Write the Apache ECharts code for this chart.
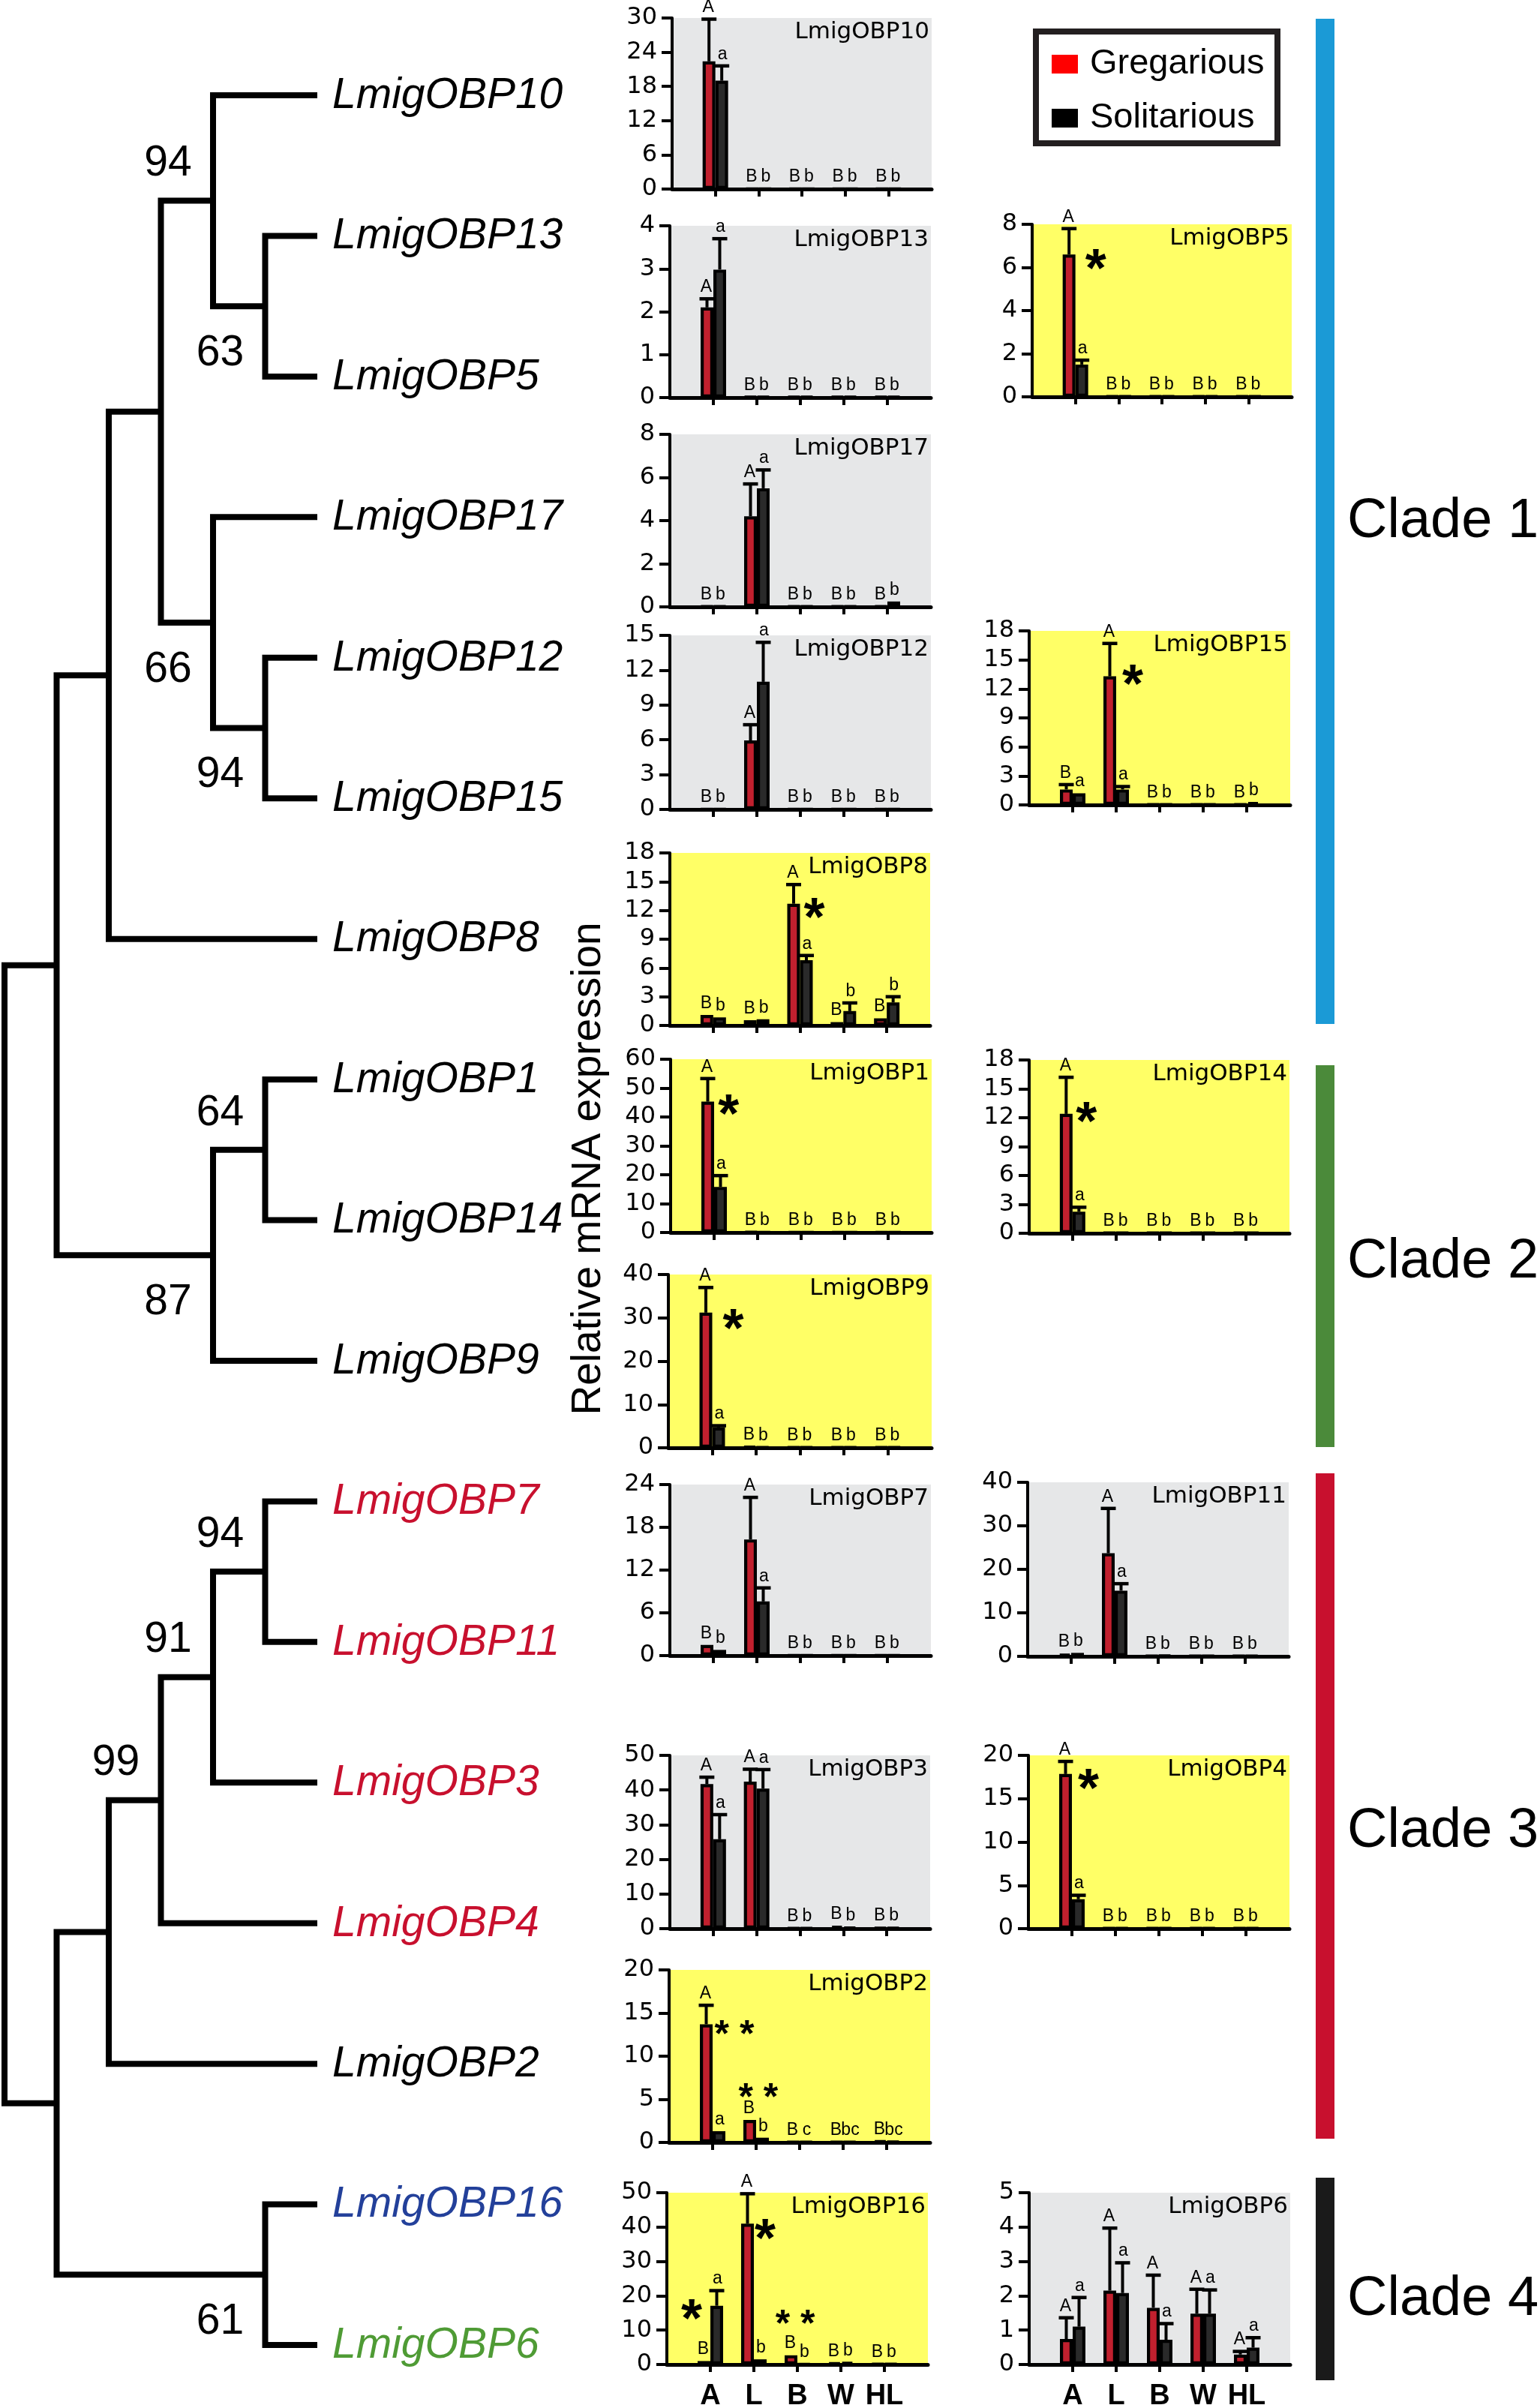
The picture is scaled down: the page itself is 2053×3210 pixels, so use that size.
<!DOCTYPE html>
<html><head><meta charset="utf-8">
<script src="https://cdn.jsdelivr.net/npm/echarts/dist/echarts.min.js"></script>
<style>html,body{margin:0;padding:0;background:#fff}#c{width:2053px;height:3210px}</style>
</head><body><div id="c"></div>
<script>
// ---------------- DATA ----------------
const TISSUES = ['A', 'L', 'B', 'W', 'HL'];
const GROUPS = ['Gregarious', 'Solitarious'];

const LEAVES = ['LmigOBP10','LmigOBP13','LmigOBP5','LmigOBP17','LmigOBP12','LmigOBP15','LmigOBP8',
  'LmigOBP1','LmigOBP14','LmigOBP9','LmigOBP7','LmigOBP11','LmigOBP3','LmigOBP4','LmigOBP2','LmigOBP16','LmigOBP6'];
// [child, child, bootstrap]
const TREE = [
  [
    [
      [
        ['LmigOBP10', ['LmigOBP13', 'LmigOBP5', 63], 94],
        ['LmigOBP17', ['LmigOBP12', 'LmigOBP15', 94], 66],
        null
      ],
      'LmigOBP8', null
    ],
    [['LmigOBP1', 'LmigOBP14', 64], 'LmigOBP9', 87],
    null
  ],
  [
    [[[['LmigOBP7', 'LmigOBP11', 94], 'LmigOBP3', 91], 'LmigOBP4', 99], 'LmigOBP2', null],
    ['LmigOBP16', 'LmigOBP6', 61],
    null
  ],
  null
];
const CLADES = ['Clade 1', 'Clade 2', 'Clade 3', 'Clade 4'];

// stars: [tissue index, offset (category widths), y value, label]
const OBP10_TICKS = [0, 6, 12, 18, 24, 30];
const OBP10_GRE = [22.4, 0.05, 0.05, 0.05, 0.05];
const OBP10_GRE_SE = [7.4, 0, 0, 0, 0];
const OBP10_SOL = [19.0, 0.05, 0.05, 0.05, 0.05];
const OBP10_SOL_SE = [2.6, 0, 0, 0, 0];
const OBP10_GRE_SIG = ['A', 'B', 'B', 'B', 'B'];
const OBP10_SOL_SIG = ['a', 'b', 'b', 'b', 'b'];
const OBP10_STARS = [];

const OBP13_TICKS = [0, 1, 2, 3, 4];
const OBP13_GRE = [2.1, 0.02, 0.02, 0.02, 0.02];
const OBP13_GRE_SE = [0.2, 0, 0, 0, 0];
const OBP13_SOL = [2.98, 0.02, 0.02, 0.02, 0.02];
const OBP13_SOL_SE = [0.72, 0, 0, 0, 0];
const OBP13_GRE_SIG = ['A', 'B', 'B', 'B', 'B'];
const OBP13_SOL_SIG = ['a', 'b', 'b', 'b', 'b'];
const OBP13_STARS = [];

const OBP17_TICKS = [0, 2, 4, 6, 8];
const OBP17_GRE = [0.03, 4.2, 0.03, 0.03, 0.03];
const OBP17_GRE_SE = [0, 1.5, 0, 0, 0];
const OBP17_SOL = [0.03, 5.5, 0.03, 0.03, 0.25];
const OBP17_SOL_SE = [0, 0.85, 0, 0, 0];
const OBP17_GRE_SIG = ['B', 'A', 'B', 'B', 'B'];
const OBP17_SOL_SIG = ['b', 'a', 'b', 'b', 'b'];
const OBP17_STARS = [];

const OBP12_TICKS = [0, 3, 6, 9, 12, 15];
const OBP12_GRE = [0.03, 5.95, 0.03, 0.03, 0.03];
const OBP12_GRE_SE = [0, 1.35, 0, 0, 0];
const OBP12_SOL = [0.03, 11.0, 0.03, 0.03, 0.03];
const OBP12_SOL_SE = [0, 3.4, 0, 0, 0];
const OBP12_GRE_SIG = ['B', 'A', 'B', 'B', 'B'];
const OBP12_SOL_SIG = ['b', 'a', 'b', 'b', 'b'];
const OBP12_STARS = [];

const OBP8_TICKS = [0, 3, 6, 9, 12, 15, 18];
const OBP8_GRE = [1.1, 0.55, 12.7, 0.35, 0.75];
const OBP8_GRE_SE = [0, 0, 2.0, 0, 0];
const OBP8_SOL = [0.85, 0.65, 6.8, 1.5, 2.4];
const OBP8_SOL_SE = [0, 0, 0.5, 0.85, 0.6];
const OBP8_GRE_SIG = ['B', 'B', 'A', 'B', 'B'];
const OBP8_SOL_SIG = ['b', 'b', 'a', 'b', 'b'];
const OBP8_STARS = [[2, 0.33, 12.1, '*']];

const OBP1_TICKS = [0, 10, 20, 30, 40, 50, 60];
const OBP1_GRE = [45.3, 0.2, 0.1, 0.1, 0.1];
const OBP1_GRE_SE = [8.0, 0, 0, 0, 0];
const OBP1_SOL = [15.8, 0.1, 0.1, 0.1, 0.1];
const OBP1_SOL_SE = [3.9, 0, 0, 0, 0];
const OBP1_GRE_SIG = ['A', 'B', 'B', 'B', 'B'];
const OBP1_SOL_SIG = ['a', 'b', 'b', 'b', 'b'];
const OBP1_STARS = [[0, 0.33, 43.7, '*']];

const OBP9_TICKS = [0, 10, 20, 30, 40];
const OBP9_GRE = [31.2, 0.3, 0.1, 0.1, 0.1];
const OBP9_GRE_SE = [5.8, 0, 0, 0, 0];
const OBP9_SOL = [4.7, 0.1, 0.1, 0.1, 0.1];
const OBP9_SOL_SE = [0.4, 0, 0, 0, 0];
const OBP9_GRE_SIG = ['A', 'B', 'B', 'B', 'B'];
const OBP9_SOL_SIG = ['a', 'b', 'b', 'b', 'b'];
const OBP9_STARS = [[0, 0.48, 29.3, '*']];

const OBP7_TICKS = [0, 6, 12, 18, 24];
const OBP7_GRE = [1.5, 16.3, 0.05, 0.05, 0.05];
const OBP7_GRE_SE = [0, 5.9, 0, 0, 0];
const OBP7_SOL = [0.8, 7.6, 0.05, 0.05, 0.05];
const OBP7_SOL_SE = [0, 1.9, 0, 0, 0];
const OBP7_GRE_SIG = ['B', 'A', 'B', 'B', 'B'];
const OBP7_SOL_SIG = ['b', 'a', 'b', 'b', 'b'];
const OBP7_STARS = [];

const OBP3_TICKS = [0, 10, 20, 30, 40, 50];
const OBP3_GRE = [41.7, 42.4, 0.2, 0.8, 0.3];
const OBP3_GRE_SE = [2.0, 3.6, 0, 0, 0];
const OBP3_SOL = [25.8, 40.4, 0.2, 0.4, 0.3];
const OBP3_SOL_SE = [7.1, 5.5, 0, 0, 0];
const OBP3_GRE_SIG = ['A', 'A', 'B', 'B', 'B'];
const OBP3_SOL_SIG = ['a', 'a', 'b', 'b', 'b'];
const OBP3_STARS = [];

const OBP2_TICKS = [0, 5, 10, 15, 20];
const OBP2_GRE = [13.7, 2.6, 0.05, 0.05, 0.2];
const OBP2_GRE_SE = [2.2, 0, 0, 0, 0];
const OBP2_SOL = [1.3, 0.55, 0.05, 0.05, 0.1];
const OBP2_SOL_SE = [0, 0, 0, 0, 0];
const OBP2_GRE_SIG = ['A', 'B', 'B', 'B', 'B'];
const OBP2_SOL_SIG = ['a', 'b', 'c', 'bc', 'bc'];
const OBP2_STARS = [[0, 0.5, 13.2, '* *'], [1, 0.05, 5.9, '* *']];

const OBP16_TICKS = [0, 10, 20, 30, 40, 50];
const OBP16_GRE = [1.0, 41.0, 2.7, 0.5, 0.2];
const OBP16_GRE_SE = [0, 8.7, 0, 0, 0];
const OBP16_SOL = [17.1, 1.5, 0.1, 0.7, 0.2];
const OBP16_SOL_SE = [4.4, 0, 0, 0, 0];
const OBP16_GRE_SIG = ['B', 'A', 'B', 'B', 'B'];
const OBP16_SOL_SIG = ['a', 'b', 'b', 'b', 'b'];
const OBP16_STARS = [[0, -0.43, 15.6, '*'], [1, 0.26, 38.9, '*'], [2, -0.05, 13.5, '* *']];

const OBP5_TICKS = [0, 2, 4, 6, 8];
const OBP5_GRE = [6.6, 0.03, 0.03, 0.03, 0.03];
const OBP5_GRE_SE = [1.2, 0, 0, 0, 0];
const OBP5_SOL = [1.5, 0.03, 0.03, 0.03, 0.03];
const OBP5_SOL_SE = [0.2, 0, 0, 0, 0];
const OBP5_GRE_SIG = ['A', 'B', 'B', 'B', 'B'];
const OBP5_SOL_SIG = ['a', 'b', 'b', 'b', 'b'];
const OBP5_STARS = [[0, 0.47, 6.3, '*']];

const OBP15_TICKS = [0, 3, 6, 9, 12, 15, 18];
const OBP15_GRE = [1.6, 13.3, 0.05, 0.05, 0.05];
const OBP15_GRE_SE = [0.5, 3.4, 0, 0, 0];
const OBP15_SOL = [1.2, 1.6, 0.05, 0.05, 0.3];
const OBP15_SOL_SE = [0, 0.3, 0, 0, 0];
const OBP15_GRE_SIG = ['B', 'A', 'B', 'B', 'B'];
const OBP15_SOL_SIG = ['a', 'a', 'b', 'b', 'b'];
const OBP15_STARS = [[1, 0.38, 13.3, '*']];

const OBP14_TICKS = [0, 3, 6, 9, 12, 15, 18];
const OBP14_GRE = [12.4, 0.05, 0.05, 0.05, 0.05];
const OBP14_GRE_SE = [3.8, 0, 0, 0, 0];
const OBP14_SOL = [2.25, 0.05, 0.05, 0.05, 0.05];
const OBP14_SOL_SE = [0.45, 0, 0, 0, 0];
const OBP14_GRE_SIG = ['A', 'B', 'B', 'B', 'B'];
const OBP14_SOL_SIG = ['a', 'b', 'b', 'b', 'b'];
const OBP14_STARS = [[0, 0.32, 12.4, '*']];

const OBP11_TICKS = [0, 10, 20, 30, 40];
const OBP11_GRE = [0.6, 23.7, 0.1, 0.1, 0.1];
const OBP11_GRE_SE = [0, 10.3, 0, 0, 0];
const OBP11_SOL = [0.8, 15.1, 0.2, 0.1, 0.1];
const OBP11_SOL_SE = [0, 1.6, 0, 0, 0];
const OBP11_GRE_SIG = ['B', 'A', 'B', 'B', 'B'];
const OBP11_SOL_SIG = ['b', 'a', 'b', 'b', 'b'];
const OBP11_STARS = [];

const OBP4_TICKS = [0, 5, 10, 15, 20];
const OBP4_GRE = [17.85, 0.05, 0.05, 0.05, 0.05];
const OBP4_GRE_SE = [1.45, 0, 0, 0, 0];
const OBP4_SOL = [3.4, 0.05, 0.05, 0.05, 0.05];
const OBP4_SOL_SE = [0.45, 0, 0, 0, 0];
const OBP4_GRE_SIG = ['A', 'B', 'B', 'B', 'B'];
const OBP4_SOL_SIG = ['a', 'b', 'b', 'b', 'b'];
const OBP4_STARS = [[0, 0.38, 17.1, '*']];

const OBP6_TICKS = [0, 1, 2, 3, 4, 5];
const OBP6_GRE = [0.74, 2.15, 1.65, 1.48, 0.29];
const OBP6_GRE_SE = [0.62, 1.82, 0.95, 0.71, 0.09];
const OBP6_SOL = [1.1, 2.08, 0.72, 1.48, 0.49];
const OBP6_SOL_SE = [0.85, 0.88, 0.47, 0.69, 0.29];
const OBP6_GRE_SIG = ['A', 'A', 'A', 'A', 'A'];
const OBP6_SOL_SIG = ['a', 'a', 'a', 'a', 'a'];
const OBP6_STARS = [];

// ---------------- STYLE / LAYOUT ----------------
const RED = '#c1202e', DARK = '#2a2a2a', GREY = '#e6e7e8', YEL = '#ffff66';
const LEAF_COLOR = {LmigOBP7:'#c8102e', LmigOBP11:'#c8102e', LmigOBP3:'#c8102e', LmigOBP4:'#c8102e',
  LmigOBP16:'#23409a', LmigOBP6:'#4f9b35'};
const CLADE_COLOR = ['#1b9ad6', '#4b8a3a', '#c8102e', '#1a1a1a'];
const CLADE_BAR = [[25, 1365], [1420, 1929], [1964, 2851], [2903, 3173]];
const CLADE_LABEL_Y = [696, 1683, 2442, 3066];
const FONT = 'Liberation Sans';
const BAR_W = 17, CAP_W = 20, BORDER = 4.2;

function P(name, ticks, gre, greSe, sol, solSe, greSig, solSig, stars, bg, left, right, top, bottom, labels) {
  return {name, ticks, gre, greSe, sol, solSe, greSig, solSig, stars, bg, left, right, top, bottom, labels};
}
const PANELS = [
  P('LmigOBP10', OBP10_TICKS, OBP10_GRE, OBP10_GRE_SE, OBP10_SOL, OBP10_SOL_SE, OBP10_GRE_SIG, OBP10_SOL_SIG, OBP10_STARS, GREY, 896, 1242, 24, 252, false),
  P('LmigOBP13', OBP13_TICKS, OBP13_GRE, OBP13_GRE_SE, OBP13_SOL, OBP13_SOL_SE, OBP13_GRE_SIG, OBP13_SOL_SIG, OBP13_STARS, GREY, 893, 1241, 301, 530, false),
  P('LmigOBP17', OBP17_TICKS, OBP17_GRE, OBP17_GRE_SE, OBP17_SOL, OBP17_SOL_SE, OBP17_GRE_SIG, OBP17_SOL_SIG, OBP17_STARS, GREY, 893, 1241, 579, 809, false),
  P('LmigOBP12', OBP12_TICKS, OBP12_GRE, OBP12_GRE_SE, OBP12_SOL, OBP12_SOL_SE, OBP12_GRE_SIG, OBP12_SOL_SIG, OBP12_STARS, GREY, 893, 1241, 847, 1079, false),
  P('LmigOBP8', OBP8_TICKS, OBP8_GRE, OBP8_GRE_SE, OBP8_SOL, OBP8_SOL_SE, OBP8_GRE_SIG, OBP8_SOL_SIG, OBP8_STARS, YEL, 893, 1240, 1137, 1367, false),
  P('LmigOBP1', OBP1_TICKS, OBP1_GRE, OBP1_GRE_SE, OBP1_SOL, OBP1_SOL_SE, OBP1_GRE_SIG, OBP1_SOL_SIG, OBP1_STARS, YEL, 894, 1242, 1412, 1643, false),
  P('LmigOBP9', OBP9_TICKS, OBP9_GRE, OBP9_GRE_SE, OBP9_SOL, OBP9_SOL_SE, OBP9_GRE_SIG, OBP9_SOL_SIG, OBP9_STARS, YEL, 891, 1242, 1699, 1930, false),
  P('LmigOBP7', OBP7_TICKS, OBP7_GRE, OBP7_GRE_SE, OBP7_SOL, OBP7_SOL_SE, OBP7_GRE_SIG, OBP7_SOL_SIG, OBP7_STARS, GREY, 893, 1241, 1979, 2207, false),
  P('LmigOBP3', OBP3_TICKS, OBP3_GRE, OBP3_GRE_SE, OBP3_SOL, OBP3_SOL_SE, OBP3_GRE_SIG, OBP3_SOL_SIG, OBP3_STARS, GREY, 893, 1240, 2340, 2571, false),
  P('LmigOBP2', OBP2_TICKS, OBP2_GRE, OBP2_GRE_SE, OBP2_SOL, OBP2_SOL_SE, OBP2_GRE_SIG, OBP2_SOL_SIG, OBP2_STARS, YEL, 892, 1240, 2626, 2856, false),
  P('LmigOBP16', OBP16_TICKS, OBP16_GRE, OBP16_GRE_SE, OBP16_SOL, OBP16_SOL_SE, OBP16_GRE_SIG, OBP16_SOL_SIG, OBP16_STARS, YEL, 889, 1237, 2923, 3152, true),
  P('LmigOBP5', OBP5_TICKS, OBP5_GRE, OBP5_GRE_SE, OBP5_SOL, OBP5_SOL_SE, OBP5_GRE_SIG, OBP5_SOL_SIG, OBP5_STARS, YEL, 1376, 1722, 299, 529, false),
  P('LmigOBP15', OBP15_TICKS, OBP15_GRE, OBP15_GRE_SE, OBP15_SOL, OBP15_SOL_SE, OBP15_GRE_SIG, OBP15_SOL_SIG, OBP15_STARS, YEL, 1372, 1720, 841, 1073, false),
  P('LmigOBP14', OBP14_TICKS, OBP14_GRE, OBP14_GRE_SE, OBP14_SOL, OBP14_SOL_SE, OBP14_GRE_SIG, OBP14_SOL_SIG, OBP14_STARS, YEL, 1372, 1719, 1413, 1644, false),
  P('LmigOBP11', OBP11_TICKS, OBP11_GRE, OBP11_GRE_SE, OBP11_SOL, OBP11_SOL_SE, OBP11_GRE_SIG, OBP11_SOL_SIG, OBP11_STARS, GREY, 1370, 1718, 1976, 2208, false),
  P('LmigOBP4', OBP4_TICKS, OBP4_GRE, OBP4_GRE_SE, OBP4_SOL, OBP4_SOL_SE, OBP4_GRE_SIG, OBP4_SOL_SIG, OBP4_STARS, YEL, 1371, 1719, 2340, 2571, false),
  P('LmigOBP6', OBP6_TICKS, OBP6_GRE, OBP6_GRE_SE, OBP6_SOL, OBP6_SOL_SE, OBP6_GRE_SIG, OBP6_SOL_SIG, OBP6_STARS, GREY, 1372, 1720, 2923, 3152, true)
];

// ---------------- BUILD ----------------
const W = 2053;
const grids = [], xAxes = [], yAxes = [], series = [], titles = [];

// tree layout in tree units (x: 0..6 node level, y: leaf index)
const treeNodes = [];
function walk(n, isFirst) {
  if (typeof n === 'string') return {x: 6, y: LEAVES.indexOf(n), h: 0};
  const a = walk(n[0], true), b = walk(n[1], false);
  const h = Math.max(a.h, b.h) + 1;
  const x = 6 - h, y = (a.y + b.y) / 2;
  treeNodes.push([x, a.x, a.y, b.x, b.y, n[2] == null ? -1 : n[2], isFirst ? 1 : 0, y]);
  return {x, y, h};
}
walk(TREE, true);

grids.push({left: 6, top: 127, width: 417, height: 2999, outerBoundsMode: 'none'});
xAxes.push({type: 'value', gridIndex: 0, min: 0, max: 6, show: false});
yAxes.push({type: 'value', gridIndex: 0, min: 0, max: 16, inverse: true, show: false});
series.push({
  type: 'custom', coordinateSystem: 'cartesian2d', xAxisIndex: 0, yAxisIndex: 0, silent: true,
  data: treeNodes,
  renderItem(params, api) {
    const nx = api.value(0), ax = api.value(1), ay = api.value(2), bx = api.value(3), by = api.value(4);
    const sup = api.value(5), first = api.value(6), ny = api.value(7);
    const pts = [api.coord([ax, ay]), api.coord([nx, ay]), api.coord([nx, by]), api.coord([bx, by])];
    const ch = [{type: 'polyline', shape: {points: pts}, style: {stroke: '#000', lineWidth: 8, fill: 'none', lineJoin: 'miter'}}];
    if (sup >= 0) {
      const c = api.coord([nx, ny]);
      ch.push({type: 'text', x: c[0] - 60, y: c[1] + (first ? -49 : 63),
        style: {text: String(sup), fill: '#000', fontSize: 57, fontFamily: FONT, align: 'center', verticalAlign: 'middle'}});
    }
    return {type: 'group', children: ch};
  }
});
series.push({
  type: 'custom', coordinateSystem: 'cartesian2d', xAxisIndex: 0, yAxisIndex: 0, silent: true,
  data: LEAVES.map((n, i) => [6, i]),
  renderItem(params, api) {
    const c = api.coord([api.value(0), api.value(1)]);
    const name = LEAVES[params.dataIndex];
    return {type: 'text', x: c[0] + 20, y: c[1] + 1,
      style: {text: name, fill: LEAF_COLOR[name] || '#000', fontSize: 57, fontStyle: 'italic', fontFamily: FONT, align: 'left', verticalAlign: 'middle'}};
  }
});

function errSeries(gi, vals, errs, sigs, side) {
  return {
    type: 'custom', coordinateSystem: 'cartesian2d', xAxisIndex: gi, yAxisIndex: gi, silent: true, z: 5,
    data: vals.map((v, i) => [i + 1, v, errs[i]]),
    renderItem(params, api) {
      const i = params.dataIndex;
      const cat = api.value(0), v = api.value(1), e = api.value(2);
      const base = api.coord([cat, v]);
      const top = api.coord([cat, v + e]);
      const x = base[0] + side * BAR_W / 2;
      const ch = [];
      if (e > 0) {
        ch.push({type: 'line', shape: {x1: x, y1: base[1], x2: x, y2: top[1]}, style: {stroke: '#000', lineWidth: 4}});
        ch.push({type: 'line', shape: {x1: x - CAP_W / 2, y1: top[1], x2: x + CAP_W / 2, y2: top[1]}, style: {stroke: '#000', lineWidth: 4.5}});
      }
      ch.push({type: 'text', x: x + side * 1, y: top[1] - 4,
        style: {text: sigs[i], fill: '#000', fontSize: 23, fontFamily: FONT, align: 'center', verticalAlign: 'bottom'}});
      return {type: 'group', children: ch};
    }
  };
}
function starSeries(gi, stars) {
  return {
    type: 'custom', coordinateSystem: 'cartesian2d', xAxisIndex: gi, yAxisIndex: gi, silent: true, z: 6,
    data: stars.map(s => [s[0] + 1, s[2], s[1]]),
    renderItem(params, api) {
      const s = stars[params.dataIndex];
      const p = api.coord([api.value(0), api.value(1)]);
      const bw = api.size([1, 0])[0];
      const fs = s[3] === '*' ? 72 : 50;
      return {type: 'text', x: p[0] + api.value(2) * bw, y: p[1] + 0.2 * fs,
        style: {text: s[3], fill: '#000', fontSize: fs, fontWeight: 'bold', fontFamily: FONT, align: 'center', verticalAlign: 'middle'}};
    }
  };
}

PANELS.forEach((p, k) => {
  const gi = k + 1;
  grids.push({left: p.left, top: p.top, width: p.right - p.left, height: p.bottom - p.top,
    show: true, backgroundColor: p.bg, borderWidth: 0, outerBoundsMode: 'none'});
  xAxes.push({type: 'category', gridIndex: gi, data: [''].concat(TISSUES, ['']), boundaryGap: false,
    axisLine: {show: true, onZero: false, lineStyle: {color: '#000', width: 5}},
    axisTick: {show: true, length: 10, interval: (i) => i >= 1 && i <= 5, lineStyle: {color: '#000', width: 4}},
    axisLabel: {show: p.labels, interval: 0, margin: 24, fontSize: 38, fontWeight: 'bold', color: '#000', fontFamily: FONT},
    splitLine: {show: false}});
  const t = p.ticks;
  yAxes.push({type: 'value', gridIndex: gi, min: t[0], max: t[t.length - 1], interval: t[1] - t[0],
    axisLine: {show: true, lineStyle: {color: '#000', width: 4}},
    axisTick: {show: true, length: 14, lineStyle: {color: '#000', width: 4}},
    axisLabel: {show: true, margin: 20, fontSize: 32, fontFamily: 'DejaVu Sans', color: '#000'},
    splitLine: {show: false}});
  series.push({type: 'bar', name: GROUPS[0], xAxisIndex: gi, yAxisIndex: gi, silent: true,
    data: ['-'].concat(p.gre, ['-']), barWidth: BAR_W, barGap: '0%',
    itemStyle: {color: RED, borderColor: '#000', borderWidth: BORDER}});
  series.push({type: 'bar', name: GROUPS[1], xAxisIndex: gi, yAxisIndex: gi, silent: true,
    data: ['-'].concat(p.sol, ['-']), barWidth: BAR_W, barGap: '0%',
    itemStyle: {color: DARK, borderColor: '#000', borderWidth: BORDER}});
  series.push(errSeries(gi, p.gre, p.greSe, p.greSig, -1));
  series.push(errSeries(gi, p.sol, p.solSe, p.solSig, 1));
  series.push(starSeries(gi, p.stars));
  titles.push({text: p.name, right: W - p.right + 3, top: p.top + 3, padding: 0,
    textStyle: {fontFamily: 'DejaVu Sans', fontSize: 31, fontWeight: 'normal', color: '#000'}});
});

const graphic = [
  {type: 'rect', z: 1, shape: {x: 1381, y: 42, width: 322, height: 149}, style: {fill: '#fff', stroke: '#231f20', lineWidth: 8}},
  {type: 'text', x: 785, y: 1558, rotation: Math.PI / 2,
    style: {text: 'Relative mRNA expression', fill: '#000', fontSize: 55, fontFamily: FONT, align: 'center', verticalAlign: 'middle'}}
];
CLADES.forEach((c, i) => {
  graphic.push({type: 'rect', shape: {x: 1754, y: CLADE_BAR[i][0], width: 25, height: CLADE_BAR[i][1] - CLADE_BAR[i][0]}, style: {fill: CLADE_COLOR[i]}});
  graphic.push({type: 'text', x: 1796, y: CLADE_LABEL_Y[i],
    style: {text: c, fill: '#000', fontSize: 74, fontFamily: FONT, align: 'left', verticalAlign: 'middle'}});
});

const chart = echarts.init(document.getElementById('c'), null, {renderer: 'canvas'});
chart.setOption({
  animation: false,
  backgroundColor: '#fff',
  textStyle: {fontFamily: FONT},
  title: titles,
  legend: {
    orient: 'vertical', left: 1397, top: 57, itemWidth: 35, itemHeight: 25, itemGap: 25, icon: 'rect',
    selectedMode: false, z: 10,
    data: [{name: GROUPS[0], itemStyle: {color: '#ff0000', borderWidth: 0}}, {name: GROUPS[1], itemStyle: {color: '#000000', borderWidth: 0}}],
    itemStyle: {borderWidth: 0},
    textStyle: {fontSize: 47, fontFamily: FONT, color: '#000', lineHeight: 46, padding: [0, 0, 0, 11]}
  },
  grid: grids, xAxis: xAxes, yAxis: yAxes, series: series, graphic: graphic
});
</script></body></html>
